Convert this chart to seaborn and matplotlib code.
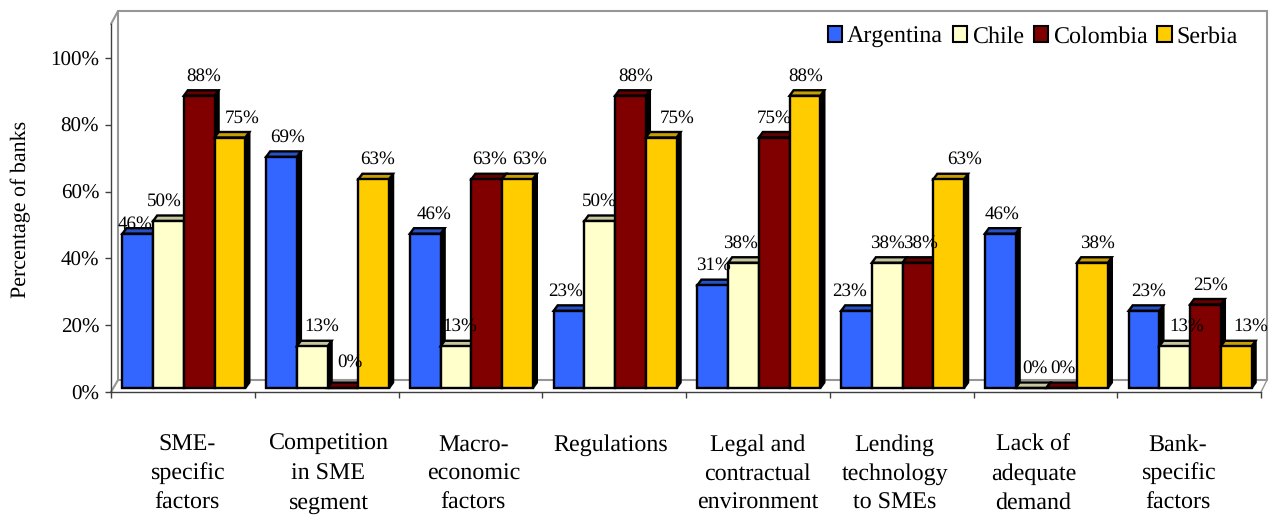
import numpy as np
import pandas as pd
import matplotlib
matplotlib.use("Agg")
from matplotlib import pyplot as plt
from matplotlib.lines import Line2D
from matplotlib.patches import Polygon
from matplotlib.ticker import PercentFormatter
from matplotlib.colors import to_rgb
import seaborn as sns

#Data
categories = ["SME-\nspecific\nfactors", "Competition\nin SME\nsegment", "Macro-\neconomic\nfactors",
              "Regulations", "Legal and\ncontractual\nenvironment", "Lending\ntechnology\nto SMEs",
              "Lack of\nadequate\ndemand", "Bank-\nspecific\nfactors"]
countries = ["Argentina", "Chile", "Colombia", "Serbia"]
argentina = [46.2, 69.2, 46.2, 23.1, 30.8, 23.1, 46.2, 23.1]
chile = [50, 12.5, 12.5, 50, 37.5, 37.5, 0, 12.5]
colombia = [87.5, 0, 62.5, 87.5, 75, 37.5, 0, 25]
serbia = [75, 62.5, 62.5, 75, 87.5, 62.5, 37.5, 12.5]
colors = ["#3366FF", "#FFFFCC", "#800000", "#FFCC00"]

#Preferences
W, H = 1269, 515
sns.set_theme(style="white", font="Liberation Serif",
              rc={"text.color": "black", "xtick.color": "black", "ytick.color": "black",
                  "axes.labelcolor": "black", "text.hinting": "no_hinting", "text.hinting_factor": 1})

#Hand nudges for labels, pixels
label_dx = [[-3, -4, 4, 12], [6, 9, 7, 4], [9, 4, 3, 12], [-3, 0, 5, 16],
            [1, -3, 0, 1], [-7, 0, 3, 16], [2, 4, 1, 5], [5, 12, 5, 15]]
label_dy = {(0, 0): -10, (1, 2): 6, (6, 1): 0, (6, 2): 0}
cat_dx = [4, 1, 3, -3, 0, -7, -12, -11]

def px(x, y):
    return x / W, 1 - y / H

def wall(x0, y0, x1, y1, color="#969696", lw=1.5):
    a, b = px(x0, y0), px(x1, y1)
    line = Line2D([a[0], b[0]], [a[1], b[1]], color=color, lw=lw, zorder=-1,
                  transform=fig.transFigure)
    fig.add_artist(line)

def darker(color, amount=0.78):
    return tuple(c * amount for c in to_rgb(color))

data = pd.DataFrame({"factor": categories, "Argentina": argentina, "Chile": chile,
                     "Colombia": colombia, "Serbia": serbia})
long = data.melt(id_vars="factor", var_name="country", value_name="share")

fig = plt.figure(figsize=(W / 100, H / 100), dpi=100, facecolor="white")
ax = fig.add_axes([111 / W, (H - 392) / H, 1150 / W, 368 / H])
ax.patch.set_visible(False)

sns.barplot(data=long, x="factor", y="share", hue="country", hue_order=countries,
            palette=colors, saturation=1, width=0.855, gap=0, edgecolor="black",
            linewidth=1.7, ax=ax)

ax.set_xlim(-0.5, 7.5)
ax.set_ylim(0, 368 / 3.34)
xunit = 1 / 143.75
yunit = 1 / 3.34

#Fake the 3D look on each bar
for s, container in enumerate(ax.containers):
    for bar in container:
        bar.set_x(bar.get_x() + 1 * xunit)
        bar.set_y(4 * yunit)
        bar.set_zorder(3 + s + 0.5)
        x0, w, h = bar.get_x(), bar.get_width(), bar.get_height()
        y0 = bar.get_y()
        dx, dy = 4 * xunit, 5.5 * yunit
        side = Polygon([(x0 + w, y0), (x0 + w + dx, y0 + dy), (x0 + w + dx, y0 + h + dy), (x0 + w, y0 + h)],
                       facecolor="black", edgecolor="black", lw=1.7, zorder=3 + s)
        top = Polygon([(x0, y0 + h), (x0 + dx, y0 + h + dy), (x0 + w + dx, y0 + h + dy), (x0 + w, y0 + h)],
                      facecolor=darker(colors[s]), edgecolor="black", lw=1.7, zorder=3 + s)
        ax.add_patch(side)
        ax.add_patch(top)
        c = int(round(x0 + w / 2))
        v = h
        text = "%d%%" % int(v + 0.5)
        ax.annotate(text, (x0 + w / 2, y0 + h), xytext=(label_dx[c][s] * 0.72, (11 + label_dy.get((c, s), 0)) * 0.72),
                    textcoords="offset points", ha="center", va="bottom", fontsize=13.6,
                    zorder=20, annotation_clip=False)

#Axes
ax.set_yticks(range(0, 101, 20))
ax.yaxis.set_major_formatter(PercentFormatter(decimals=0))
ax.set_xticks(np.arange(-0.5, 8))
ax.set_xticklabels([])
ax.tick_params(axis="y", which="major", left=True, length=4, width=1, color="#404040", labelsize=15, pad=4.5)
ax.tick_params(axis="x", which="major", bottom=True, length=4.5, width=1, color="#404040")
for spine in ["top", "right"]:
    ax.spines[spine].set_visible(False)
for spine in ["left", "bottom"]:
    ax.spines[spine].set_color("#404040")
    ax.spines[spine].set_linewidth(1)
ax.set_xlabel("")
ax.set_ylabel("Percentage of banks", fontsize=15.9)
ax.yaxis.set_label_coords(-0.0785, 0.495)
ax.yaxis.label.set_verticalalignment("center")

for i, name in enumerate(categories):
    ax.annotate(name, (i, 0), xycoords=ax.get_xaxis_transform(), xytext=(cat_dx[i] * 0.72, -30),
                textcoords="offset points", ha="center", va="top", fontsize=17.2, linespacing=1.45,
                annotation_clip=False)

#Back walls
wall(118, 11, 1267, 11)
wall(118, 11, 118, 380)
wall(1267, 11, 1267, 380)
wall(118, 380, 1267, 380)
wall(111, 392, 118, 380)
wall(1261, 392, 1267, 380, lw=1)
wall(111, 24, 118, 11)

#Legend
sns.move_legend(ax, "upper right", bbox_to_anchor=px(1238, 26), bbox_transform=fig.transFigure,
                ncol=4, title=None, frameon=False, fontsize=17.1, borderpad=0, borderaxespad=0,
                handlelength=0.62, handleheight=0.66, handletextpad=0.2, columnspacing=0.4)
for handle in ax.get_legend().get_patches():
    handle.set_edgecolor("black")
    handle.set_linewidth(1.5)

plt.savefig("out.png", dpi=100)
plt.close()
